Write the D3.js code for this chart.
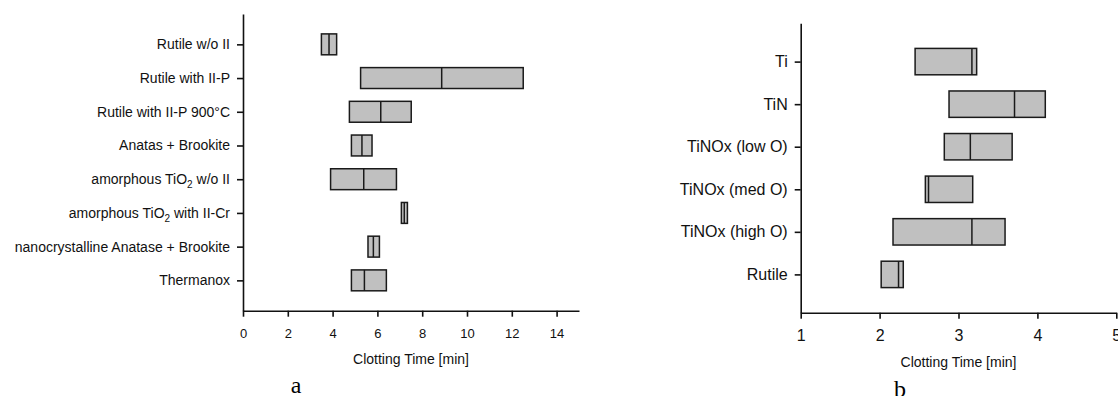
<!DOCTYPE html>
<html>
<head>
<meta charset="utf-8">
<script src="https://cdn.jsdelivr.net/npm/d3@7"></script>
<style>
  body { margin: 0; background: #fff; }
  svg { display: block; font-family: "Liberation Sans", Arial, sans-serif; }
</style>
</head>
<body>
<div id="chart"></div>
<script>
// panel a
var catsA = ['Rutile w/o II', 'Rutile with II-P', 'Rutile with II-P 900°C', 'Anatas + Brookite',
             'amorphous TiO2 w/o II', 'amorphous TiO2 with II-Cr', 'nanocrystalline Anatase + Brookite', 'Thermanox'];
var lowA  = [3.50, 5.25, 4.75, 4.84, 3.91, 7.07, 5.58, 4.84];
var medA  = [3.84, 8.87, 6.15, 5.31, 5.39, 7.20, 5.82, 5.42];
var highA = [4.18, 12.51, 7.51, 5.76, 6.85, 7.34, 6.09, 6.40];
var ticksA = [0, 2, 4, 6, 8, 10, 12, 14];

// panel b
var catsB = ['Ti', 'TiN', 'TiNOx (low O)', 'TiNOx (med O)', 'TiNOx (high O)', 'Rutile'];
var lowB  = [2.45, 2.88, 2.82, 2.58, 2.17, 2.02];
var medB  = [3.17, 3.71, 3.15, 2.62, 3.17, 2.24];
var highB = [3.23, 4.10, 3.68, 3.18, 3.59, 2.30];
var ticksB = [1, 2, 3, 4, 5];

var xTitle = 'Clotting Time [min]';

var width = 1118,
    height = 396;

var svg = d3.select('#chart')
    .append('svg')
        .attr('width', width)
        .attr('height', height);

function drawPanel(p) {
    var x = d3.scaleLinear().domain(p.xDomain).range([p.left, p.right]);
    var y = d3.scalePoint().domain(p.cats).range([p.top, p.bottom]).padding(0.9);
    var boxH = y.step() * 0.62;

    var rows = p.cats.map(function (c, i) {
        return { cat: c, low: p.low[i], med: p.med[i], high: p.high[i] };
    });

    var g = svg.append('g');

    // boxes
    var box = g.selectAll('g.box')
        .data(rows)
        .enter()
        .append('g')
            .attr('class', 'box');
    box.append('rect')
        .attr('x', function (d) { return x(d.low); })
        .attr('y', function (d) { return y(d.cat) - boxH / 2; })
        .attr('width', function (d) { return x(d.high) - x(d.low); })
        .attr('height', boxH)
        .style('fill', '#c0c0c0')
        .style('stroke', '#1a1a1a')
        .style('stroke-width', 1.5);
    box.append('line')
        .attr('x1', function (d) { return x(d.med); })
        .attr('x2', function (d) { return x(d.med); })
        .attr('y1', function (d) { return y(d.cat) - boxH / 2; })
        .attr('y2', function (d) { return y(d.cat) + boxH / 2; })
        .style('stroke', '#1a1a1a')
        .style('stroke-width', 1.5);

    // y axis
    var yAx = g.append('g')
        .attr('transform', 'translate(' + p.left + ',0)')
        .call(d3.axisLeft(y).tickSize(6).tickSizeOuter(0).tickPadding(7));
    yAx.selectAll('text')
        .style('font-size', p.labelSize + 'px')
        .style('fill', '#111')
        .each(function (d) {
            var m = d.match(/^(.*TiO)2(.*)$/);
            if (!m) return;
            var t = d3.select(this).text('');
            t.append('tspan').text(m[1]);
            t.append('tspan').attr('dy', 4).style('font-size', (p.labelSize - 4) + 'px').text('2');
            t.append('tspan').attr('dy', -4).text(m[2]);
        });

    // x axis
    var xAx = g.append('g')
        .attr('transform', 'translate(0,' + p.bottom + ')')
        .call(d3.axisBottom(x).tickValues(p.ticks).tickSize(6).tickSizeOuter(0).tickPadding(p.tickPad)
            .tickFormat(d3.format('d')));
    xAx.selectAll('text')
        .style('font-size', p.numSize + 'px')
        .style('fill', '#111');

    g.selectAll('.domain, .tick line')
        .style('stroke', '#111')
        .style('stroke-width', 1.6);

    g.append('text')
        .attr('x', (p.left + p.right) / 2)
        .attr('y', p.titleY)
        .attr('text-anchor', 'middle')
        .style('font-size', '14px')
        .style('fill', '#111')
        .text(xTitle);

    g.append('text')
        .attr('x', p.letterX)
        .attr('y', p.letterY)
        .attr('text-anchor', 'middle')
        .style('font-family', '"Liberation Serif", "Times New Roman", serif')
        .style('font-size', '24px')
        .style('fill', '#000')
        .text(p.letter);
}

drawPanel({
    cats: catsA, low: lowA, med: medA, high: highA, ticks: ticksA,
    xDomain: [0, 15], left: 243, right: 579, top: 14, bottom: 310.7,
    labelSize: 14, numSize: 13, tickPad: 12, titleY: 364,
    letter: 'a', letterX: 296, letterY: 393
});

drawPanel({
    cats: catsB, low: lowB, med: medB, high: highB, ticks: ticksB,
    xDomain: [1, 5], left: 800.7, right: 1116.3, top: 23.3, bottom: 312.7,
    labelSize: 16, numSize: 16, tickPad: 11, titleY: 367,
    letter: 'b', letterX: 900, letterY: 397
});
</script>
</body>
</html>
